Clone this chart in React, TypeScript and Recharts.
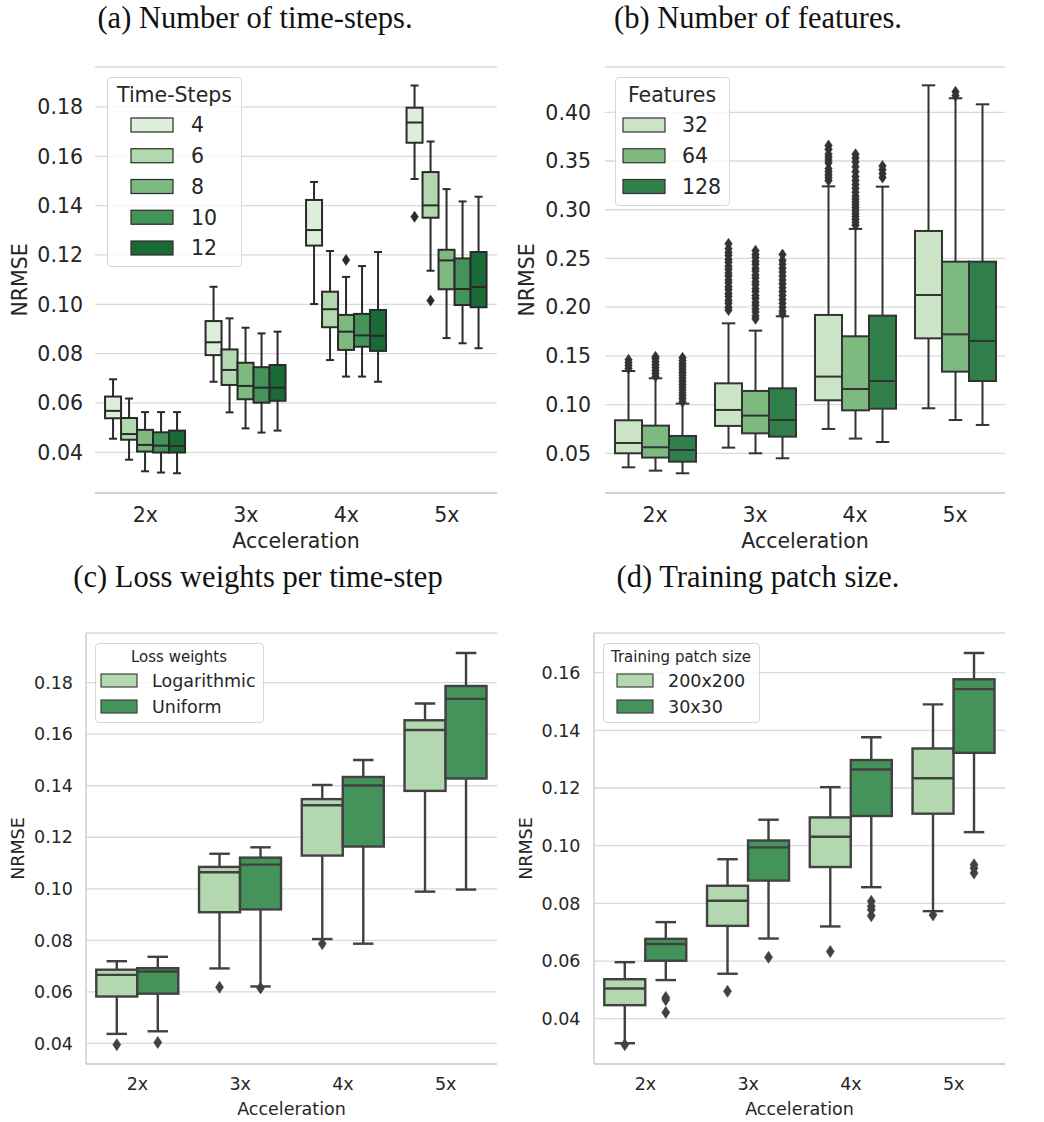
import React from 'react';
import { ComposedChart, Bar, XAxis, YAxis, CartesianGrid, Legend } from 'recharts';

const FONT = 'DejaVu Sans, sans-serif';
const TEXT = '#262626';

const accelerations = ['2x', '3x', '4x', '5x'];

// Every box row: [lower whisker, q1, median, q3, upper whisker], one row per acceleration.

// (a) Number of time-steps
const timeStepNames = ['4', '6', '8', '10', '12'];
const timeStepColors = ['#ddeed9', '#b3d8af', '#7eba7f', '#44935a', '#1a6a38'];
const ts4 = [[0.0455, 0.0538, 0.0568, 0.0626, 0.0696], [0.0686, 0.0794, 0.0846, 0.0932, 0.1071], [0.1001, 0.1238, 0.1301, 0.1423, 0.1496], [0.1508, 0.1655, 0.1737, 0.1797, 0.1887]];
const ts6 = [[0.0370, 0.0451, 0.0474, 0.0539, 0.0618], [0.0562, 0.0673, 0.0734, 0.0817, 0.0943], [0.0774, 0.0907, 0.0980, 0.1051, 0.1216], [0.1136, 0.1351, 0.1401, 0.1536, 0.1660]];
const ts8 = [[0.0323, 0.0403, 0.0430, 0.0491, 0.0563], [0.0497, 0.0615, 0.0669, 0.0763, 0.0905], [0.0707, 0.0815, 0.0889, 0.0957, 0.1111], [0.0863, 0.1061, 0.1178, 0.1221, 0.1467]];
const ts10 = [[0.0318, 0.0399, 0.0427, 0.0481, 0.0563], [0.0480, 0.0601, 0.0662, 0.0745, 0.0882], [0.0707, 0.0828, 0.0874, 0.0961, 0.1155], [0.0842, 0.0997, 0.1062, 0.1186, 0.1417]];
const ts12 = [[0.0315, 0.0399, 0.0426, 0.0488, 0.0563], [0.0488, 0.0609, 0.0662, 0.0754, 0.0889], [0.0686, 0.0811, 0.0872, 0.0977, 0.1212], [0.0822, 0.0988, 0.1070, 0.1212, 0.1436]];
const ts4Out = [[], [], [], [0.1355]];
const ts6Out = [[], [], [], [0.1015]];
const ts8Out = [[], [], [0.1180], []];
const ts10Out = [[], [], [], []];
const ts12Out = [[], [], [], []];
const ticksA = [0.04, 0.06, 0.08, 0.1, 0.12, 0.14, 0.16, 0.18];

// (b) Number of features
const featureNames = ['32', '64', '128'];
const featureColors = ['#cae4c5', '#7eba7f', '#307e49'];
const f32 = [[0.0356, 0.0500, 0.0606, 0.0839, 0.1345], [0.0558, 0.0781, 0.0945, 0.1218, 0.1834], [0.0750, 0.1044, 0.1287, 0.1920, 0.3240], [0.0962, 0.1680, 0.2125, 0.2782, 0.4277]];
const f64 = [[0.0322, 0.0456, 0.0562, 0.0784, 0.1270], [0.0500, 0.0705, 0.0887, 0.1140, 0.1759], [0.0651, 0.0941, 0.1160, 0.1701, 0.2803], [0.0842, 0.1338, 0.1721, 0.2467, 0.4144]];
const f128 = [[0.0295, 0.0414, 0.0534, 0.0678, 0.1010], [0.0449, 0.0671, 0.0842, 0.1167, 0.1906], [0.0616, 0.0958, 0.1242, 0.1913, 0.3237], [0.0791, 0.1242, 0.1653, 0.2467, 0.4082]];
const f32Out = [
  [0.137, 0.140, 0.143, 0.146],
  [0.197, 0.200, 0.204, 0.207, 0.211, 0.214, 0.218, 0.221, 0.225, 0.228, 0.232, 0.235, 0.239, 0.242, 0.246, 0.249, 0.253, 0.256, 0.260, 0.265],
  [0.330, 0.333, 0.336, 0.339, 0.342, 0.348, 0.351, 0.354, 0.357, 0.362, 0.366],
  [],
];
const f64Out = [
  [0.129, 0.132, 0.135, 0.138, 0.141, 0.144, 0.147, 0.149],
  [0.188, 0.191, 0.195, 0.198, 0.202, 0.205, 0.209, 0.212, 0.216, 0.219, 0.223, 0.226, 0.230, 0.233, 0.237, 0.240, 0.244, 0.247, 0.251, 0.254, 0.258],
  [0.284, 0.287, 0.290, 0.293, 0.296, 0.299, 0.302, 0.305, 0.308, 0.311, 0.314, 0.318, 0.322, 0.326, 0.330, 0.334, 0.339, 0.344, 0.349, 0.353, 0.357],
  [0.417, 0.421],
];
const f128Out = [
  [0.103, 0.106, 0.109, 0.112, 0.115, 0.118, 0.121, 0.124, 0.127, 0.130, 0.133, 0.136, 0.139, 0.142, 0.145, 0.148],
  [0.193, 0.196, 0.200, 0.204, 0.208, 0.212, 0.216, 0.220, 0.224, 0.228, 0.232, 0.236, 0.240, 0.244, 0.248, 0.254],
  [0.333, 0.337, 0.341, 0.345],
  [],
];
const ticksB = [0.05, 0.1, 0.15, 0.2, 0.25, 0.3, 0.35, 0.4];

// (c) Loss weights per time-step
const weightNames = ['Logarithmic', 'Uniform'];
const pairColors = ['#b3d8af', '#44935a'];
const logW = [[0.0437, 0.0582, 0.0666, 0.0686, 0.0719], [0.0691, 0.0909, 0.1064, 0.1085, 0.1136], [0.0805, 0.1129, 0.1324, 0.1348, 0.1403], [0.0989, 0.1380, 0.1616, 0.1654, 0.1719]];
const uniW = [[0.0447, 0.0593, 0.0679, 0.0692, 0.0736], [0.0621, 0.0920, 0.1094, 0.1121, 0.1161], [0.0787, 0.1164, 0.1401, 0.1434, 0.1500], [0.0997, 0.1428, 0.1737, 0.1787, 0.1915]];
const logWOut = [[0.0395], [0.0618], [0.0787], []];
const uniWOut = [[0.0404], [0.0615], [], []];
const ticksC = [0.04, 0.06, 0.08, 0.1, 0.12, 0.14, 0.16, 0.18];

// (d) Training patch size
const patchNames = ['200x200', '30x30'];
const p200 = [[0.0315, 0.0447, 0.0505, 0.0537, 0.0596], [0.0556, 0.0722, 0.0809, 0.0861, 0.0953], [0.0720, 0.0926, 0.1031, 0.1098, 0.1203], [0.0773, 0.1111, 0.1234, 0.1337, 0.1490]];
const p30 = [[0.0534, 0.0601, 0.0659, 0.0677, 0.0735], [0.0678, 0.0879, 0.0994, 0.1018, 0.1090], [0.0856, 0.1103, 0.1264, 0.1297, 0.1376], [0.1047, 0.1322, 0.1543, 0.1577, 0.1668]];
const p200Out = [[0.0310], [0.0495], [0.0633], [0.0760]];
const p30Out = [[0.0474, 0.0466, 0.0422], [0.0613], [0.0807, 0.0790, 0.0778, 0.0757], [0.0934, 0.0922, 0.0905]];
const ticksD = [0.04, 0.06, 0.08, 0.1, 0.12, 0.14, 0.16];

const panelTitles = ['(a) Number of time-steps.', '(b) Number of features.', '(c) Loss weights per time-step', '(d) Training patch size.'];

type Series = { name: string; color: string; stats: number[][]; outliers: number[][] };

type LegendSpec = {
  title: string; titleSize: number; itemSize: number;
  left: number; top: number; width: number; height: number;
  titleX: number; titleY: number;
  patchX: number; patchW: number; patchH: number;
  firstY: number; stepY: number; labelX: number;
};

type PanelSpec = {
  left: number; top: number; width: number; height: number;
  margin: { top: number; right: number; bottom: number; left: number };
  yWidth: number; xHeight: number;
  domain: [number, number]; ticks: number[];
  fontSize: number; tickMarginY: number; tickMarginX: number;
  yLabelOffset: number; xLabelOffset: number;
  lineColor: string; lineWidth: number; diamond: [number, number];
  leftSpine: boolean; series: Series[]; legend: LegendSpec;
};

const zip = (names: string[], colors: string[], stats: number[][][], outs: number[][][]): Series[] =>
  names.map((name, i) => ({ name, color: colors[i], stats: stats[i], outliers: outs[i] }));

function diamondPath(cx: number, cy: number, w: number, h: number) {
  return `M${cx},${cy - h / 2}L${cx + w / 2},${cy}L${cx},${cy + h / 2}L${cx - w / 2},${cy}Z`;
}

// Bar spans the whisker range; the shape uses that span to place quartiles, median and fliers.
function makeBoxShape(s: Series, stroke: string, lw: number, dw: number, dh: number) {
  return (p: any) => {
    const found = p.payload ? accelerations.indexOf(p.payload.acc) : -1;
    const i = found >= 0 ? found : p.index;
    const [lo, q1, med, q3, hi] = s.stats[i];
    const top = Math.min(p.y, p.y + p.height);
    const h = Math.abs(p.height);
    const k = h / (hi - lo);
    const py = (v: number) => top + (hi - v) * k;
    const cx = p.x + p.width / 2;
    const cap = p.width / 4;
    const ln = { stroke, strokeWidth: lw };
    return (
      <g>
        <line x1={cx} x2={cx} y1={py(hi)} y2={py(q3)} {...ln} />
        <line x1={cx} x2={cx} y1={py(q1)} y2={py(lo)} {...ln} />
        <line x1={cx - cap} x2={cx + cap} y1={py(hi)} y2={py(hi)} {...ln} />
        <line x1={cx - cap} x2={cx + cap} y1={py(lo)} y2={py(lo)} {...ln} />
        <rect x={p.x} y={py(q3)} width={p.width} height={py(q1) - py(q3)} fill={s.color} {...ln} />
        <line x1={p.x} x2={p.x + p.width} y1={py(med)} y2={py(med)} {...ln} />
        {s.outliers[i].map((v, j) => (
          <path key={j} d={diamondPath(cx, py(v), dw, dh)} fill={stroke} stroke={stroke} strokeWidth={0.6} />
        ))}
      </g>
    );
  };
}

function LegendBox({ spec, series, stroke }: { spec: LegendSpec; series: Series[]; stroke: string }) {
  return (
    <svg width={spec.width} height={spec.height} style={{ display: 'block' }}>
      <rect x={0.5} y={0.5} width={spec.width - 1} height={spec.height - 1} rx={3.5}
        fill="#ffffff" fillOpacity={0.8} stroke="#d6d6d6" strokeWidth={1} />
      <text x={spec.titleX} y={spec.titleY} textAnchor="middle" fontSize={spec.titleSize}
        fontFamily={FONT} fill={TEXT}>{spec.title}</text>
      {series.map((s, i) => {
        const cy = spec.firstY + i * spec.stepY;
        return (
          <g key={s.name}>
            <rect x={spec.patchX} y={cy - spec.patchH / 2} width={spec.patchW} height={spec.patchH}
              fill={s.color} stroke={stroke} strokeWidth={1.2} />
            <text x={spec.labelX} y={cy + 0.36 * spec.itemSize} fontSize={spec.itemSize}
              fontFamily={FONT} fill={TEXT}>{s.name}</text>
          </g>
        );
      })}
    </svg>
  );
}

function BoxPanel({ spec }: { spec: PanelSpec }) {
  const data = accelerations.map((acc, i) => {
    const row: Record<string, any> = { acc };
    spec.series.forEach((s, j) => {
      row['s' + j] = [s.stats[i][0], s.stats[i][4]];
    });
    return row;
  });
  const font = { fontSize: spec.fontSize, fontFamily: FONT, fill: TEXT };
  const spine = { stroke: '#cccccc', strokeWidth: 1.5 };
  return (
    <div style={{ position: 'absolute', left: spec.left, top: spec.top }}>
      <ComposedChart width={spec.width} height={spec.height} data={data} margin={spec.margin}
        barCategoryGap="10%" barGap={0}>
        <CartesianGrid vertical={false} stroke="#d9d9d9" strokeWidth={1.3} />
        <XAxis dataKey="acc" height={spec.xHeight} tickLine={false} tickSize={0}
          tickMargin={spec.tickMarginX} axisLine={spine} tick={font}
          label={{ value: 'Acceleration', position: 'insideBottom', offset: spec.xLabelOffset, ...font }} />
        <YAxis type="number" width={spec.yWidth} domain={spec.domain} ticks={spec.ticks}
          allowDataOverflow tickLine={false} tickSize={0} tickMargin={spec.tickMarginY}
          axisLine={spec.leftSpine ? spine : false} tick={font}
          tickFormatter={(v: number) => v.toFixed(2)}
          label={{ value: 'NRMSE', angle: -90, position: 'insideLeft', offset: spec.yLabelOffset,
            style: { textAnchor: 'middle' }, ...font }} />
        {spec.series.map((s, j) => (
          <Bar key={s.name} dataKey={'s' + j} name={s.name} fill={s.color} isAnimationActive={false}
            shape={makeBoxShape(s, spec.lineColor, spec.lineWidth, spec.diamond[0], spec.diamond[1])} />
        ))}
        <Legend layout="vertical" align="center" verticalAlign="middle"
          wrapperStyle={{ left: spec.legend.left, top: spec.legend.top, width: spec.legend.width,
            height: spec.legend.height, margin: 0, padding: 0 }}
          content={() => <LegendBox spec={spec.legend} series={spec.series} stroke={spec.lineColor} />} />
      </ComposedChart>
    </div>
  );
}

const panelA: PanelSpec = {
  left: 0, top: 0, width: 520, height: 570,
  margin: { top: 67, right: 23, bottom: 17, left: 20 }, yWidth: 75, xHeight: 60,
  domain: [0.0235, 0.1962], ticks: ticksA,
  fontSize: 20.5, tickMarginY: 12, tickMarginX: 14, yLabelOffset: 0, xLabelOffset: 5,
  lineColor: '#2a2a2a', lineWidth: 2, diamond: [7.5, 11], leftSpine: false,
  series: zip(timeStepNames, timeStepColors, [ts4, ts6, ts8, ts10, ts12], [ts4Out, ts6Out, ts8Out, ts10Out, ts12Out]),
  legend: {
    title: 'Time-Steps', titleSize: 20.5, itemSize: 20.5, left: 107, top: 77, width: 135, height: 190,
    titleX: 67.5, titleY: 25, patchX: 24, patchW: 42, patchH: 14, firstY: 48, stepY: 30.75, labelX: 84,
  },
};

const panelB: PanelSpec = {
  left: 500, top: 0, width: 530, height: 570,
  margin: { top: 67, right: 25, bottom: 17, left: 30 }, yWidth: 75, xHeight: 60,
  domain: [0.00925, 0.4465], ticks: ticksB,
  fontSize: 20.5, tickMarginY: 14, tickMarginX: 14, yLabelOffset: -3, xLabelOffset: 5,
  lineColor: '#333333', lineWidth: 2, diamond: [7.5, 11], leftSpine: false,
  series: zip(featureNames, featureColors, [f32, f64, f128], [f32Out, f64Out, f128Out]),
  legend: {
    title: 'Features', titleSize: 20.5, itemSize: 20.5, left: 115, top: 77, width: 115, height: 129,
    titleX: 57, titleY: 25, patchX: 8, patchW: 42, patchH: 14, firstY: 48, stepY: 30.75, labelX: 67,
  },
};

const panelC: PanelSpec = {
  left: 0, top: 600, width: 520, height: 522,
  margin: { top: 33, right: 23, bottom: 2, left: 16 }, yWidth: 70, xHeight: 56,
  domain: [0.03201, 0.19927], ticks: ticksC,
  fontSize: 17.5, tickMarginY: 13, tickMarginX: 14, yLabelOffset: 1.5, xLabelOffset: 5,
  lineColor: '#414141', lineWidth: 2.4, diamond: [8, 12], leftSpine: true,
  series: zip(weightNames, pairColors, [logW, uniW], [logWOut, uniWOut]),
  legend: {
    title: 'Loss weights', titleSize: 15, itemSize: 17.5, left: 95, top: 43, width: 169, height: 80,
    titleX: 84, titleY: 19, patchX: 6, patchW: 36, patchH: 13, firstY: 37.5, stepY: 26, labelX: 57,
  },
};

const panelD: PanelSpec = {
  left: 500, top: 600, width: 530, height: 522,
  margin: { top: 33, right: 25, bottom: 2, left: 24 }, yWidth: 70, xHeight: 56,
  domain: [0.0243, 0.17375], ticks: ticksD,
  fontSize: 17.5, tickMarginY: 13.5, tickMarginX: 14, yLabelOffset: 2, xLabelOffset: 5,
  lineColor: '#414141', lineWidth: 2.4, diamond: [8, 12], leftSpine: true,
  series: zip(patchNames, pairColors, [p200, p30], [p200Out, p30Out]),
  legend: {
    title: 'Training patch size', titleSize: 15, itemSize: 17.5, left: 103, top: 43, width: 157, height: 80,
    titleX: 78, titleY: 19, patchX: 14, patchW: 36, patchH: 13, firstY: 37.5, stepY: 26, labelX: 65,
  },
};

const titleAnchors = [[255, 28], [758, 28], [258, 587], [758, 587]];

export default function App() {
  return (
    <div style={{ position: 'absolute', left: 0, top: 0, width: 1044, height: 1122, background: '#ffffff' }}>
      <svg width={1044} height={1122} style={{ position: 'absolute', left: 0, top: 0 }}>
        {panelTitles.map((t, i) => (
          <text key={t} x={titleAnchors[i][0]} y={titleAnchors[i][1]} textAnchor="middle"
            fontFamily="'Liberation Serif', serif" fontSize={30.5} fill="#111111">{t}</text>
        ))}
      </svg>
      <BoxPanel spec={panelA} />
      <BoxPanel spec={panelB} />
      <BoxPanel spec={panelC} />
      <BoxPanel spec={panelD} />
    </div>
  );
}
